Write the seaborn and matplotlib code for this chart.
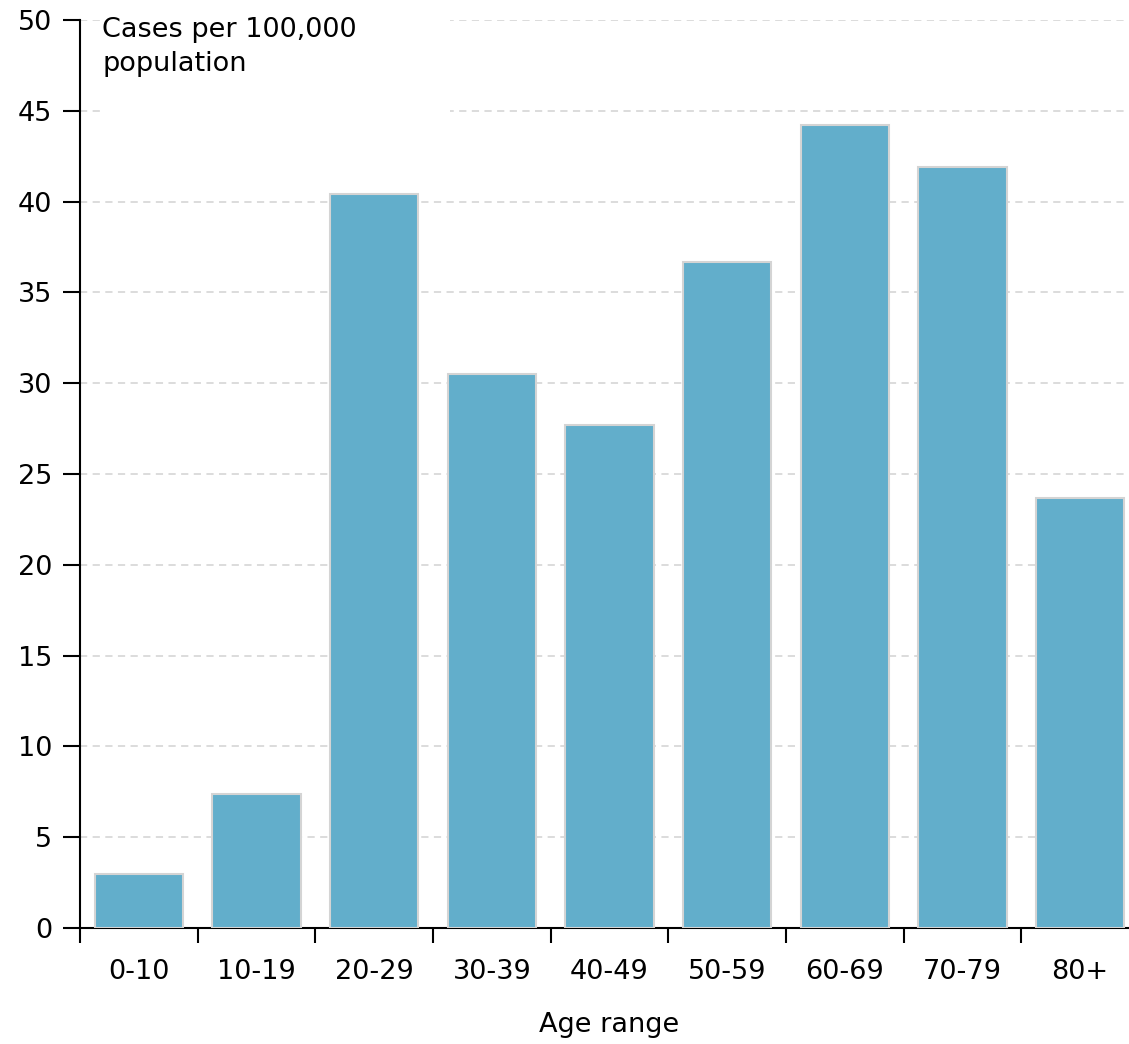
import matplotlib
matplotlib.use("Agg")
import matplotlib.pyplot as plt
import seaborn as sns
import pandas as pd
import numpy as np

age_ranges = ["0-10", "10-19", "20-29", "30-39", "40-49", "50-59", "60-69", "70-79", "80+"]
cases_per_100k = [3.0, 7.4, 40.4, 30.5, 27.7, 36.7, 44.2, 41.9, 23.7]
y_ticks = [0, 5, 10, 15, 20, 25, 30, 35, 40, 45, 50]

sns.set_theme(style="white")
plt.rcParams["font.family"] = ["DejaVu Sans"]

df = pd.DataFrame({"age": age_ranges, "cases": cases_per_100k})

fig = plt.figure(figsize=(11.29, 10.44), dpi=100)
ax = fig.add_axes([80 / 1129, 1 - 928 / 1044, 1059 / 1129, 908 / 1044])

sns.barplot(data=df, x="age", y="cases", color="#62aecb", saturation=1,
            width=0.75, edgecolor="#d4d4d4", linewidth=1.5, ax=ax, zorder=3)

ax.set_ylim(0, 50)
ax.set_xlim(-0.5, len(age_ranges) - 0.5)
ax.set_yticks(y_ticks)
ax.yaxis.grid(True, linestyle=(0, (4, 3)), color="#d9d9d9", linewidth=1.3, zorder=0)
ax.xaxis.grid(False)
ax.set_axisbelow(True)

for side in ["top", "right"]:
    ax.spines[side].set_visible(False)
for side in ["left", "bottom"]:
    ax.spines[side].set_color("#000000")
    ax.spines[side].set_linewidth(1.5)

# Category labels without ticks; boundary ticks between categories
ax.set_xticks(np.arange(-0.5, len(age_ranges), 1.0), minor=True)
ax.tick_params(axis="x", which="major", bottom=False, length=0, pad=22,
               labelsize=19.5, colors="#000000")
ax.tick_params(axis="x", which="minor", bottom=True, length=11, width=1.5,
               direction="out", color="#000000")
ax.tick_params(axis="y", which="major", left=True, length=12, width=1.5, direction="out",
               labelsize=19.5, pad=8, colors="#000000")

ax.set_xlabel("Age range", fontsize=19.5, labelpad=20, color="#000000")
ax.set_ylabel("")

ax.text(0.021, 1.003, "Cases per 100,000\npopulation", transform=ax.transAxes,
        ha="left", va="top", fontsize=19.5, color="#000000", linespacing=1.4,
        zorder=5)
# white panel behind the unit label to keep gridlines clear of it
ax.add_patch(plt.Rectangle((0.019, 0.89), 0.33, 0.12, transform=ax.transAxes,
                           facecolor="white", edgecolor="none", zorder=1))

fig.savefig("out.png", dpi=100)
